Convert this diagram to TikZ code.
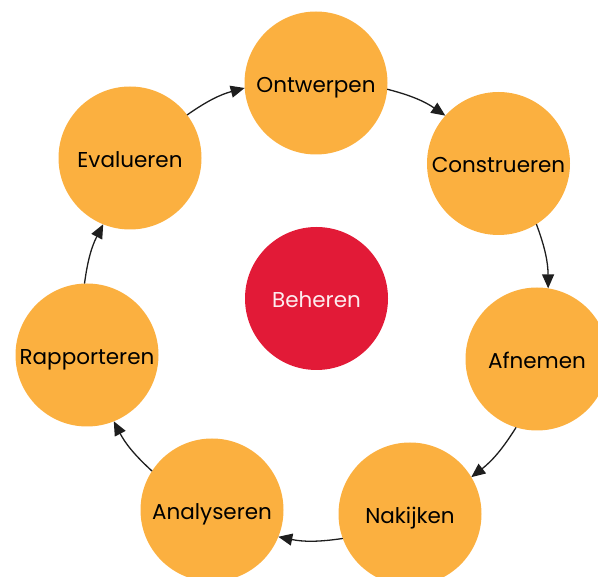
\documentclass[tikz,border=0pt]{standalone}
\usepackage{fontspec}
\setmainfont{Poppins}
\usetikzlibrary{arrows.meta}
\definecolor{orng}{RGB}{251,176,64}
\definecolor{rood}{RGB}{226,26,55}
\definecolor{pijl}{RGB}{30,30,30}
\tikzset{
  phase/.style={circle, fill=orng, minimum size=143pt, inner sep=0pt, outer sep=0pt, text height=19pt, text depth=0pt, font=\fontsize{21.5}{24}\selectfont, text=black},
  center/.style={circle, fill=rood, minimum size=143pt, inner sep=0pt, outer sep=0pt, text height=19pt, text depth=0pt, font=\fontsize{21.5}{24}\selectfont, text=white!92!rood},
  flow/.style={draw=pijl, line width=1.3pt, -{Triangle[length=14pt,width=12pt]}, bend left=10}
}
\begin{document}
\begin{tikzpicture}[x=1pt,y=-1pt]
\useasboundingbox (0,0) rectangle (598,577);
\clip (0,0) rectangle (598,577);
\node[phase] (ont) at (316,83) {Ontwerpen};
\node[phase] (con) at (498.5,163.5) {Construeren};
\node[phase] (afn) at (537,359) {Afnemen};
\node[phase] (nak) at (410,514) {Nakijken};
\node[phase] (ana) at (212,510) {Analyseren};
\node[phase] (rap) at (87,355) {Rapporteren};
\node[phase] (eva) at (130,158) {Evalueren};
\node[center] (beh) at (316.5,298.5) {Beheren};
\draw[flow] (eva.37) to (ont.184);
\draw[flow] (ont.-5) to (con.138);
\draw[flow] (con.-58) to (afn.81);
\draw[flow] (afn.-107) to (nak.31);
\draw[flow] (nak.-160) to (ana.-22);
\draw[flow] (ana.147) to (rap.-68);
\draw[flow] (rap.92) to (eva.-112);
\end{tikzpicture}
\end{document}
